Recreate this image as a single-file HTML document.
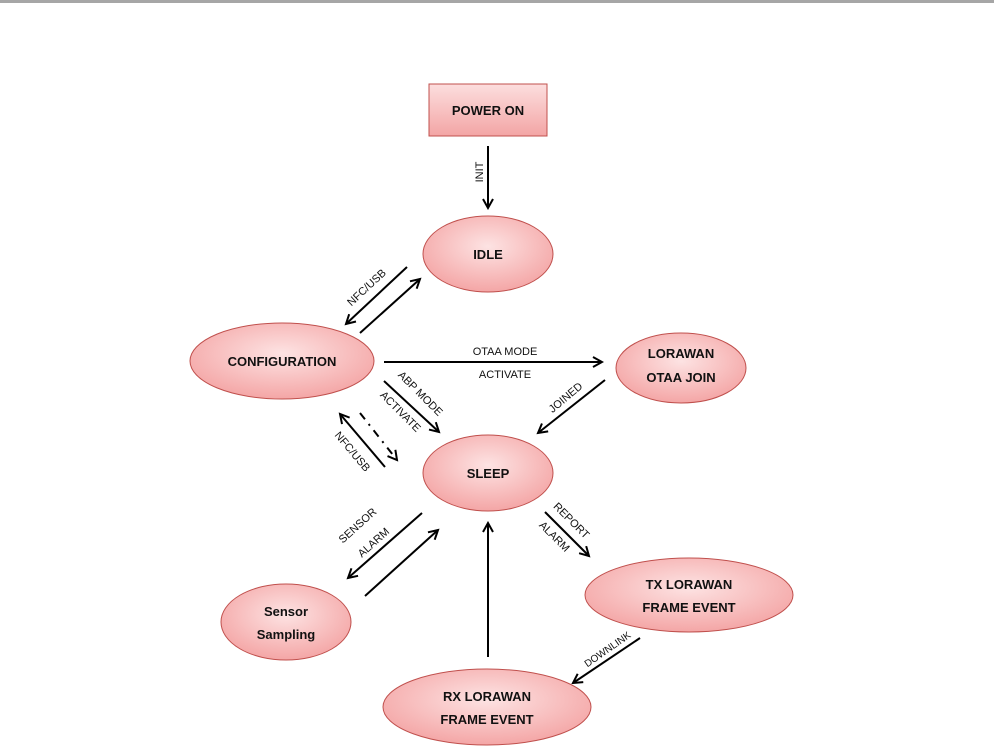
<!DOCTYPE html>
<html><head><meta charset="utf-8"><style>
html,body{margin:0;padding:0;background:#fff;width:994px;height:752px;overflow:hidden}
svg{display:block}
text{font-family:"Liberation Sans",sans-serif;fill:#111}
.n{font-weight:bold;font-size:13px;text-anchor:middle}
.l{font-size:11px;text-anchor:middle;dominant-baseline:central}
</style></head><body>
<svg width="994" height="752" viewBox="0 0 994 752">
<defs>
<radialGradient id="g" cx="50%" cy="40%" r="60%">
<stop offset="0" stop-color="#fde3e3"/><stop offset="1" stop-color="#f4a6a6"/>
</radialGradient>
<linearGradient id="gr" x1="0" y1="0" x2="0" y2="1">
<stop offset="0" stop-color="#fcdede"/><stop offset="1" stop-color="#f3a5a5"/>
</linearGradient>
<marker id="a" markerWidth="12" markerHeight="12" refX="10" refY="6" orient="auto" markerUnits="userSpaceOnUse">
<path d="M1,1 L10,6 L1,11" fill="none" stroke="#000" stroke-width="2"/>
</marker>
</defs>
<rect x="0" y="0" width="994" height="3" fill="#a6a6a6"/>
<g stroke="#c0504d" stroke-width="1">
<rect x="429" y="84" width="118" height="52" fill="url(#gr)"/>
<ellipse cx="488" cy="254" rx="65" ry="38" fill="url(#g)"/>
<ellipse cx="282" cy="361" rx="92" ry="38" fill="url(#g)"/>
<ellipse cx="681" cy="368" rx="65" ry="35" fill="url(#g)"/>
<ellipse cx="488" cy="473" rx="65" ry="38" fill="url(#g)"/>
<ellipse cx="286" cy="622" rx="65" ry="38" fill="url(#g)"/>
<ellipse cx="689" cy="595" rx="104" ry="37" fill="url(#g)"/>
<ellipse cx="487" cy="707" rx="104" ry="38" fill="url(#g)"/>
</g>
<text class="n" x="488" y="115">POWER ON</text>
<text class="n" x="488" y="259">IDLE</text>
<text class="n" x="282" y="366">CONFIGURATION</text>
<text class="n" x="681" y="358">LORAWAN</text>
<text class="n" x="681" y="382">OTAA JOIN</text>
<text class="n" x="488" y="478">SLEEP</text>
<text class="n" x="286" y="616">Sensor</text>
<text class="n" x="286" y="639">Sampling</text>
<text class="n" x="689" y="589">TX LORAWAN</text>
<text class="n" x="689" y="612">FRAME EVENT</text>
<text class="n" x="487" y="701">RX LORAWAN</text>
<text class="n" x="487" y="724">FRAME EVENT</text>
<g stroke="#000" stroke-width="2" fill="none" marker-end="url(#a)">
<line x1="488" y1="146" x2="488" y2="208"/>
<line x1="407" y1="267" x2="346" y2="324"/>
<line x1="360" y1="333" x2="420" y2="279"/>
<line x1="384" y1="362" x2="602" y2="362"/>
<line x1="384" y1="381" x2="439" y2="432"/>
<line x1="385" y1="467" x2="340" y2="414"/>
<line x1="360" y1="413" x2="397" y2="460" stroke-dasharray="8,6,2,6"/>
<line x1="605" y1="380" x2="538" y2="433"/>
<line x1="422" y1="513" x2="348" y2="578"/>
<line x1="365" y1="596" x2="438" y2="530"/>
<line x1="488" y1="657" x2="488" y2="523"/>
<line x1="545" y1="512" x2="589" y2="556"/>
<line x1="640" y1="638" x2="573" y2="683"/>
</g>
<text class="l" transform="translate(480,172) rotate(-90)">INIT</text>
<text class="l" transform="translate(367,288) rotate(-43)">NFC/USB</text>
<text class="l" x="505" y="352">OTAA MODE</text>
<text class="l" x="505" y="375">ACTIVATE</text>
<text class="l" transform="translate(420,394) rotate(45)">ABP MODE</text>
<text class="l" transform="translate(400,412) rotate(45)">ACTIVATE</text>
<text class="l" transform="translate(352,452) rotate(50)">NFC/USB</text>
<text class="l" transform="translate(566,398) rotate(-40)">JOINED</text>
<text class="l" transform="translate(358,526) rotate(-42)">SENSOR</text>
<text class="l" transform="translate(374,543) rotate(-42)">ALARM</text>
<text class="l" transform="translate(571,521) rotate(45)">REPORT</text>
<text class="l" transform="translate(554,537) rotate(45)">ALARM</text>
<text class="l" transform="translate(608,650) rotate(-35)" style="font-size:10px">DOWNLINK</text>
</svg>
</body></html>
